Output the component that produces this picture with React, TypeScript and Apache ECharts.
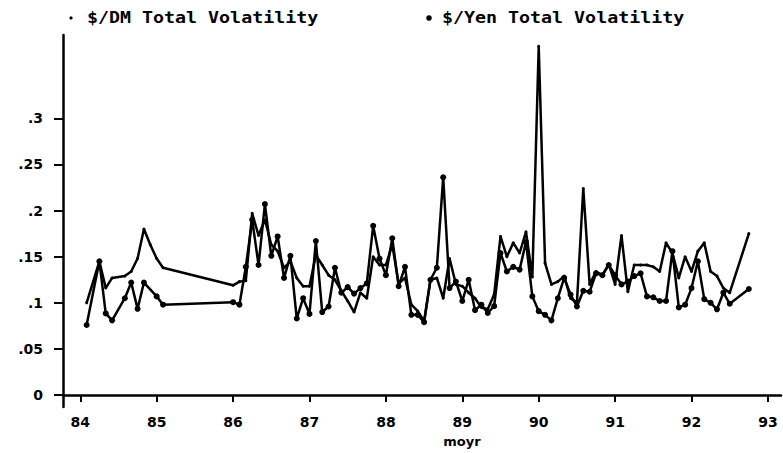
import React, { useEffect, useRef } from "react";
import * as echarts from "echarts";

// Months elapsed since January 1984 for each observation
const monthsSince84: number[] = [
  1, 3, 4, 5, 7, 8, 9, 10, 11, 12, 13,
  24, 25, 26, 27, 28, 29, 30, 31, 32, 33, 34, 35, 36, 37, 38, 39, 40, 41, 42, 43,
  44, 45, 46, 47, 48, 49, 50, 51, 52, 53, 54, 55, 56, 57, 58, 59, 60, 61, 62, 63,
  64, 65, 66, 67, 68, 69, 70, 71, 72, 73, 74, 75, 76, 77, 78, 79, 80, 81, 82, 83,
  84, 85, 86, 87, 88, 89, 90, 91, 92, 93, 94, 95, 96, 97, 98, 99, 100, 101, 102,
  105,
];

// $/DM total volatility
const dmVol: (number | null)[] = [
  0.100, 0.145, 0.116, 0.127, 0.129, 0.134, 0.148, 0.180, 0.163, 0.148, 0.138,
  0.119, 0.123, 0.124, 0.197, 0.173, 0.190, 0.163, 0.156, 0.138, 0.145, 0.127, 0.118, 0.118, 0.152, 0.141, 0.130, 0.125, 0.113, 0.102, 0.090,
  0.111, 0.105, 0.150, 0.141, 0.141, 0.163, 0.121, 0.127, 0.098, 0.091, 0.080, 0.125, 0.127, 0.105, 0.148, 0.120, 0.118, 0.111, 0.105, 0.095,
  0.093, 0.109, 0.172, 0.150, 0.165, 0.154, 0.177, 0.128, 0.378, 0.143, 0.120, 0.123, 0.129, 0.105, 0.100, 0.224, 0.120, 0.134, 0.130, 0.142,
  0.120, 0.173, 0.112, 0.141, 0.141, 0.141, 0.139, 0.134, 0.165, 0.154, 0.127, 0.150, 0.134, 0.156, 0.165, 0.134, 0.129, 0.116, 0.111,
  0.175,
];

// $/Yen total volatility
const yenVol: (number | null)[] = [
  0.076, 0.145, 0.0885, 0.081, 0.105, 0.122, 0.0935, 0.122, null, 0.107, 0.098,
  0.1007, 0.098, 0.139, 0.190, 0.141, 0.207, 0.151, 0.172, 0.127, 0.151, 0.083, 0.105, 0.088, 0.167, 0.090, 0.096, 0.138, 0.111, 0.117, 0.110,
  0.116, 0.121, 0.1835, 0.148, 0.130, 0.170, 0.118, 0.139, 0.087, 0.087, 0.079, 0.125, 0.138, 0.236, 0.116, 0.123, 0.102, 0.125, 0.092, 0.098,
  0.089, 0.0964, 0.154, 0.134, 0.139, 0.136, 0.166, 0.107, 0.091, 0.087, 0.081, 0.105, 0.127, 0.109, 0.096, 0.113, 0.112, 0.132, 0.130, 0.141,
  0.130, 0.120, 0.123, 0.129, 0.132, 0.107, 0.106, 0.102, 0.102, 0.156, 0.095, 0.098, 0.116, 0.145, 0.104, 0.100, 0.093, 0.111, 0.099,
  0.115,
];

const yTicks: number[] = [0, 0.05, 0.1, 0.15, 0.2, 0.25, 0.3];
const yTickLabels: string[] = ["0", ".05", ".1", ".15", ".2", ".25", ".3"];
const xTicks: number[] = [84, 85, 86, 87, 88, 89, 90, 91, 92, 93];

const seriesNames: string[] = ["$/DM Total Volatility", "$/Yen Total Volatility"];

const toMoyr = (m: number) => 84 + m / 12;

const labelFont = "'DejaVu Sans', sans-serif";
const legendFont = "'DejaVu Sans Mono', monospace";

export default function App() {
  const ref = useRef<HTMLDivElement>(null);

  useEffect(() => {
    if (!ref.current) return;
    const chart = echarts.init(ref.current, undefined, { renderer: "svg" });

    const pairs = (vals: (number | null)[]) =>
      monthsSince84.map((m, i) => [toMoyr(m), vals[i]]);

    chart.setOption({
      animation: false,
      backgroundColor: "#ffffff",
      grid: { left: 63, right: 2, top: 35, bottom: 43, containLabel: false },
      xAxis: {
        type: "value",
        min: 83.774,
        max: 93.171,
        name: "moyr",
        nameLocation: "middle",
        nameGap: 28,
        nameTextStyle: {
          color: "#000",
          fontFamily: labelFont,
          fontWeight: "bold",
          fontSize: 13,
          padding: [0, 0, 0, 80],
        },
        splitLine: { show: false },
        axisLine: { show: true, lineStyle: { color: "#000", width: 2.5 } },
        axisTick: {
          show: true,
          length: 7,
          lineStyle: { color: "#000", width: 2 },
          customValues: xTicks,
        },
        axisLabel: {
          color: "#000",
          fontFamily: labelFont,
          fontWeight: "bold",
          fontSize: 14,
          margin: 8,
          customValues: xTicks,
          formatter: (v: number) => String(Math.round(v)),
        },
      },
      yAxis: {
        type: "value",
        min: -0.0129,
        max: 0.3903,
        splitLine: { show: false },
        axisLine: { show: true, lineStyle: { color: "#000", width: 2.5 } },
        axisTick: {
          show: true,
          length: 9,
          lineStyle: { color: "#000", width: 2 },
          customValues: yTicks,
        },
        axisLabel: {
          color: "#000",
          fontFamily: labelFont,
          fontWeight: "bold",
          fontSize: 14,
          margin: 20,
          customValues: yTicks,
          formatter: (v: number) => {
            const i = yTicks.findIndex((t) => Math.abs(t - v) < 1e-6);
            return i >= 0 ? yTickLabels[i] : "";
          },
        },
      },
      graphic: [
        {
          type: "circle",
          shape: { cx: 71, cy: 18, r: 1.6 },
          style: { fill: "#000" },
        },
        {
          type: "text",
          x: 87,
          y: 18,
          scaleX: 1.22,
          style: {
            text: seriesNames[0],
            fill: "#000",
            font: `bold 15px ${legendFont}`,
            verticalAlign: "middle",
          },
        },
        {
          type: "circle",
          shape: { cx: 429, cy: 18, r: 2.8 },
          style: { fill: "#000" },
        },
        {
          type: "text",
          x: 442,
          y: 18,
          scaleX: 1.22,
          style: {
            text: seriesNames[1],
            fill: "#000",
            font: `bold 15px ${legendFont}`,
            verticalAlign: "middle",
          },
        },
      ],
      series: [
        {
          name: seriesNames[0],
          type: "line",
          data: pairs(dmVol),
          connectNulls: true,
          symbol: "circle",
          symbolSize: 3,
          itemStyle: { color: "#000" },
          lineStyle: { color: "#000", width: 2.5 },
          z: 2,
        },
        {
          name: seriesNames[1],
          type: "line",
          data: pairs(yenVol),
          connectNulls: true,
          symbol: "circle",
          symbolSize: 6,
          itemStyle: { color: "#000" },
          lineStyle: { color: "#000", width: 2.5 },
          z: 3,
        },
      ],
    });

    return () => chart.dispose();
  }, []);

  return (
    <div
      ref={ref}
      style={{ position: "fixed", left: 0, top: 0, width: 783, height: 453, background: "#fff" }}
    />
  );
}
